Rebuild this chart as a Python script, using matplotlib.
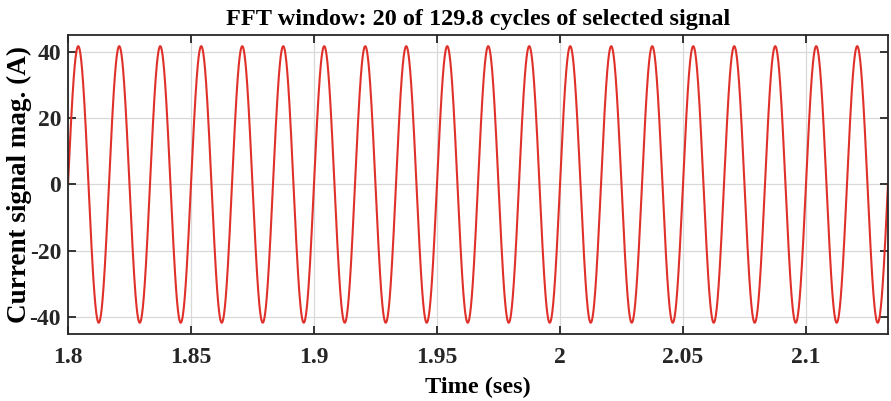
import numpy as np
import matplotlib.pyplot as plt

# signal parameters
freq = 60.0          # Hz
amplitude = 41.6     # A
t_start = 1.8        # s
n_cycles = 20
total_cycles = 129.8

t_end = t_start + n_cycles / freq
t = np.linspace(t_start, t_end, 4000)
current = amplitude * np.sin(2 * np.pi * freq * (t - t_start))

xticks = [1.8, 1.85, 1.9, 1.95, 2.0, 2.05, 2.1]
xticklabels = ['1.8', '1.85', '1.9', '1.95', '2', '2.05', '2.1']
yticks = [-40, -20, 0, 20, 40]

plt.rcParams['font.family'] = ['Liberation Serif', 'DejaVu Serif']
plt.rcParams['font.weight'] = 'bold'
plt.rcParams['axes.unicode_minus'] = False

fig = plt.figure(figsize=(8.91, 4.01), dpi=100)
ax = fig.add_axes([0.0763, 0.167, 0.9203, 0.746])

ax.plot(t, current, color='#e0302a', lw=1.5)

ax.set_xlim(t_start, t_end)
ax.set_ylim(-45, 45)
ax.set_xticks(xticks)
ax.set_xticklabels(xticklabels)
ax.set_yticks(yticks)
ax.grid(True, color='#d9d9d9', lw=0.9)
ax.set_axisbelow(True)

for s in ax.spines.values():
    s.set_color('#262626')
    s.set_linewidth(1.3)
ax.tick_params(direction='in', top=True, right=True, length=6, width=1.3,
               labelsize=17, colors='#262626')
ax.tick_params(axis='x', pad=9.5)
ax.tick_params(axis='y', pad=5)
for lab in ax.get_xticklabels() + ax.get_yticklabels():
    lab.set_fontweight('bold')

ax.set_title('FFT window: %d of %.1f cycles of selected signal' % (n_cycles, total_cycles),
             fontsize=17.5, fontweight='bold', pad=7)
ax.set_xlabel('Time (ses)', fontsize=17.5, fontweight='bold', labelpad=6)
ax.set_ylabel('Current signal mag. (A)', fontsize=19.5, fontweight='bold', labelpad=-1.5)

fig.savefig('out.png', dpi=100)
